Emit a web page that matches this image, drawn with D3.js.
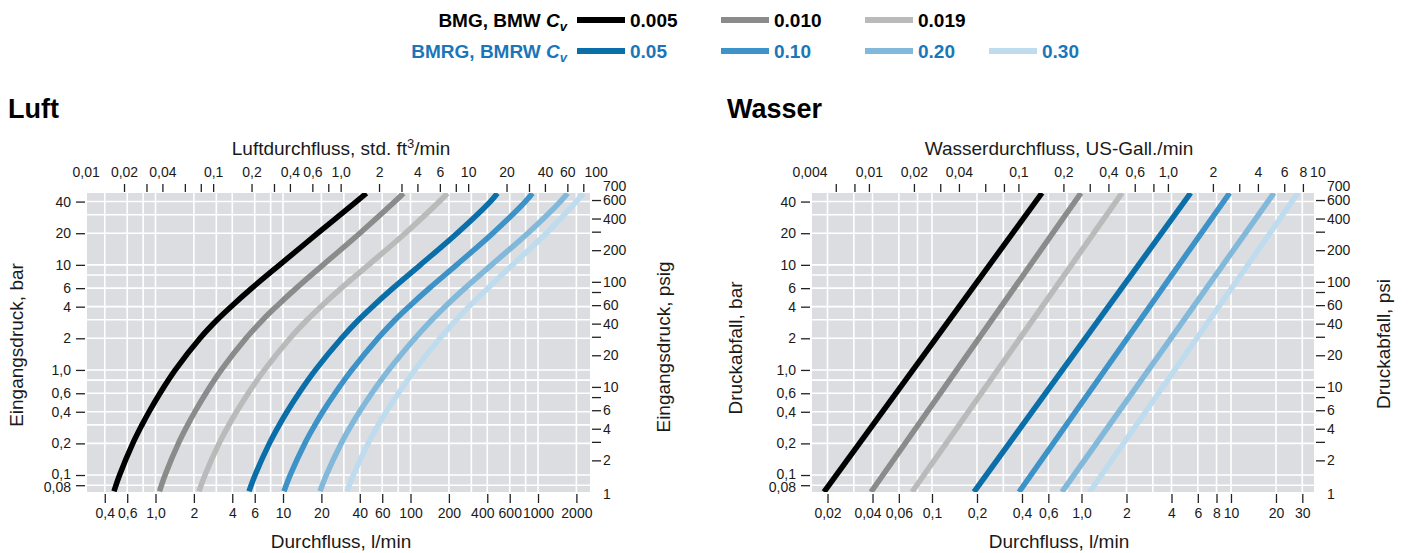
<!DOCTYPE html>
<html><head><meta charset="utf-8">
<script src="https://cdn.jsdelivr.net/npm/d3@7"></script>
<style>
body{margin:0;background:#fff;}
svg{display:block;font-family:"Liberation Sans",Arial,Helvetica,sans-serif;}
</style></head><body>
<svg id="c" width="1408" height="553"></svg>
<script>
// ---------------- DATA ----------------
// Air (Luft): inlet pressure (bar) and flow (l/min) per Cv
const airPressureBar = [0.07, 0.1, 0.2, 0.3, 0.4, 0.6, 1, 2, 3, 4, 6, 10, 20, 40, 48];
const airFlowCv0005 = [0.4726, 0.5229, 0.6637, 0.7836, 0.8908, 1.0846, 1.4300, 2.2337, 3.0473, 3.9102, 5.6925, 9.4046, 18.747, 37.58, 45.09];
const airFlowCv0010 = [1.0749, 1.1893, 1.5122, 1.7888, 2.0371, 2.4849, 3.2815, 5.1262, 6.9433, 8.8444, 12.715, 20.630, 40.027, 75.31, 87.96];
const airFlowCv0019 = [2.1937, 2.4448, 3.1537, 3.7643, 4.3181, 5.3341, 7.1599, 11.347, 15.481, 19.791, 28.658, 46.922, 91.04, 168.2, 194.7];
const airFlowCv005  = [5.4117, 6.0420, 7.8223, 9.3536, 10.749, 13.327, 17.985, 28.762, 39.241, 50.255, 72.904, 119.58, 232.0, 422.6, 480.4];
const airFlowCv010  = [10.182, 11.388, 14.824, 17.823, 20.519, 25.576, 34.705, 55.603, 75.858, 97.152, 140.68, 229.92, 442.1, 795.0, 903.8];
const airFlowCv020  = [19.507, 21.858, 28.607, 34.455, 39.811, 49.714, 67.577, 108.46, 146.91, 186.46, 267.58, 432.60, 831.8, 1496, 1701];
const airFlowCv030  = [31.766, 35.593, 46.500, 55.905, 64.595, 80.371, 108.07, 170.36, 228.26, 286.58, 403.90, 632.10, 1162, 1997, 2270];

// Water (Wasser): pressure drop (bar) and flow (l/min) per Cv
const waterPressureBar = [0.069, 48.3];
const waterFlowCv0005 = [0.01895, 0.5443];
const waterFlowCv0010 = [0.03908, 0.9923];
const waterFlowCv0019 = [0.07348, 1.866];
const waterFlowCv005  = [0.1910, 5.375];
const waterFlowCv010  = [0.3819, 9.80];
const waterFlowCv020  = [0.7406, 19.39];
const waterFlowCv030  = [1.134, 28.07];

// Legend
const cvNamesGray = ["0.005", "0.010", "0.019"];
const cvNamesBlue = ["0.05", "0.10", "0.20", "0.30"];

// Ticks & labels
const airBottomTicks = [0.4,0.6,1,2,4,6,10,20,40,60,100,200,400,600,1000,2000];
const airBottomLabels = ["0,4","0,6","1,0","2","4","6","10","20","40","60","100","200","400","600","1000","2000"];
const airGridX = [0.4,0.6,0.8,1,2,3,4,6,8,10,20,30,40,60,80,100,200,300,400,600,800,1000,2000];
const airTopTicks = [0.02,0.03,0.04,0.06,0.08,0.1,0.2,0.3,0.4,0.6,0.8,1,2,3,4,6,8,10,20,30,40,60,80];
const airTopLabelValues = [0.01,0.02,0.04,0.1,0.2,0.4,0.6,1,2,4,6,10,20,40,60,100];
const airTopLabels = ["0,01","0,02","0,04","0,1","0,2","0,4","0,6","1,0","2","4","6","10","20","40","60","100"];

const waterBottomTicks = [0.02,0.04,0.06,0.1,0.2,0.4,0.6,1,2,4,6,8,10,20,30];
const waterBottomLabels = ["0,02","0,04","0,06","0,1","0,2","0,4","0,6","1,0","2","4","6","8","10","20","30"];
const waterGridX = [0.02,0.03,0.04,0.06,0.08,0.1,0.2,0.3,0.4,0.6,0.8,1,2,3,4,6,8,10,20,30];
const waterTopTicks = [0.006,0.008,0.01,0.02,0.03,0.04,0.06,0.08,0.1,0.2,0.3,0.4,0.6,0.8,1,2,3,4,6,8];
const waterTopLabelValues = [0.004,0.01,0.02,0.04,0.1,0.2,0.4,0.6,1,2,4,6,8,10];
const waterTopLabels = ["0,004","0,01","0,02","0,04","0,1","0,2","0,4","0,6","1,0","2","4","6","8","10"];

const barTicks = [40,20,10,6,4,2,1,0.6,0.4,0.2,0.1,0.08];
const barLabels = ["40","20","10","6","4","2","1,0","0,6","0,4","0,2","0,1","0,08"];
const barGrid = [40,30,20,10,8,6,4,3,2,1,0.8,0.6,0.4,0.3,0.2,0.1,0.08];
const psiTicks = [600,400,300,200,100,80,60,40,30,20,10,8,6,4,3,2];
const psiLabelValues = [700,600,400,200,100,60,40,20,10,6,4,2,1];
const psiLabels = ["700","600","400","200","100","60","40","20","10","6","4","2","1"];

// ---------------- STYLE ----------------
const grayColors = ["#000000", "#8b8b8b", "#bababa"];
const blueColors = ["#0a6ea9", "#3d93c7", "#82b9db", "#bedcee"];
const lineColors = grayColors.concat(blueColors);
const FONT = '"Liberation Sans", Arial, Helvetica, sans-serif';
const PSI_PER_BAR = 14.5038, LPM_PER_CFM = 28.317, LPM_PER_GAL = 3.785;
const TITLE_SIZE = 19;

const svg = d3.select("#c");

// ---------------- LEGEND ----------------
const legend = svg.append("g");
const legendCols = [577, 721, 865, 989];
function legendRow(yc, title, names, colors, textColor) {
  const t = legend.append("text").attr("x", 567).attr("y", yc + 7)
    .attr("text-anchor", "end").attr("font-weight", "bold").attr("font-size", 19)
    .attr("fill", textColor).attr("font-family", FONT);
  t.append("tspan").text(title + " ");
  t.append("tspan").attr("font-style", "italic").text("C");
  t.append("tspan").attr("font-style", "italic").attr("font-size", 13).attr("dy", 4).text("v");
  names.forEach((n, i) => {
    legend.append("line").attr("x1", legendCols[i]).attr("x2", legendCols[i] + 48)
      .attr("y1", yc).attr("y2", yc).attr("stroke", colors[i]).attr("stroke-width", 6);
    legend.append("text").attr("x", legendCols[i] + 53).attr("y", yc + 7)
      .attr("font-weight", "bold").attr("font-size", 19).attr("fill", textColor)
      .attr("font-family", FONT).text(n);
  });
}
legendRow(20, "BMG, BMW", cvNamesGray, grayColors, "#000");
legendRow(51, "BMRG, BMRW", cvNamesBlue, blueColors, "#1b76b9");

// ---------------- PANELS ----------------
const Y0 = 193, Y1 = 492;
const yBar = d3.scaleLog().domain([1 / PSI_PER_BAR, 700 / PSI_PER_BAR]).range([Y1, Y0]);
const yPsi = d3.scaleLog().domain([1, 700]).range([Y1, Y0]);

function styleAxis(g) {
  g.select(".domain").remove();
  g.attr("font-family", FONT).attr("font-size", 14);
  g.selectAll(".tick line").attr("stroke", "#222").attr("stroke-width", 1.3);
  g.selectAll(".tick text").attr("fill", "#1a1a1a");
}

function panel(cfg) {
  const X0 = cfg.x0, X1 = cfg.x1;
  const x = d3.scaleLog().domain(cfg.domain).range([X0, X1]);
  const xTop = d3.scaleLog().domain(cfg.domain.map(v => v / cfg.topFactor)).range([X0, X1]);
  const g = svg.append("g");

  g.append("rect").attr("x", X0).attr("y", Y0).attr("width", X1 - X0).attr("height", Y1 - Y0)
    .attr("fill", "#dcdde0");
  g.append("g").selectAll("line").data(cfg.gridX).join("line")
    .attr("x1", d => x(d)).attr("x2", d => x(d)).attr("y1", Y0).attr("y2", Y1)
    .attr("stroke", "#fff").attr("stroke-width", 1.6);
  g.append("g").selectAll("line").data(barGrid).join("line")
    .attr("x1", X0).attr("x2", X1).attr("y1", d => yBar(d)).attr("y2", d => yBar(d))
    .attr("stroke", "#fff").attr("stroke-width", 1.6);

  const clipId = "clip" + cfg.id;
  svg.append("clipPath").attr("id", clipId).append("rect")
    .attr("x", X0).attr("y", Y0).attr("width", X1 - X0).attr("height", Y1 - Y0);
  const line = d3.line().x(d => x(d[1])).y(d => yBar(d[0])).curve(cfg.curve);
  g.append("g").attr("clip-path", `url(#${clipId})`).selectAll("path")
    .data(cfg.series).join("path")
    .attr("d", s => line(cfg.pressure.map((p, i) => [p, s[i]])))
    .attr("fill", "none").attr("stroke", (s, i) => lineColors[i])
    .attr("stroke-width", 5.5).attr("stroke-linejoin", "round");

  // bottom axis
  const bx = g.append("g").attr("transform", `translate(0,${Y1 + 2})`)
    .call(d3.axisBottom(x).tickValues(cfg.bottomTicks).tickSize(9).tickFormat((d, i) => cfg.bottomLabels[i]).tickPadding(5))
    .call(styleAxis);
  bx.selectAll(".tick text").filter(d => cfg.bottomNudge.includes(d)).attr("dx", -5);
  // top axis ticks + labels
  g.append("g").attr("transform", `translate(0,${Y0 - 1})`)
    .call(d3.axisTop(xTop).tickValues(cfg.topTicks).tickSize(8).tickFormat(""))
    .call(styleAxis);
  g.append("g").attr("transform", `translate(0,${Y0 - 1})`)
    .call(d3.axisTop(xTop).tickValues(cfg.topLabelValues).tickSize(0).tickPadding(15).tickFormat((d, i) => cfg.topLabels[i]))
    .call(styleAxis);
  // left axis (bar)
  const ly = g.append("g").attr("transform", `translate(${X0 - 2},0)`)
    .call(d3.axisLeft(yBar).tickValues(barTicks).tickSize(9).tickPadding(5).tickFormat((d, i) => barLabels[i]))
    .call(styleAxis);
  ly.selectAll(".tick text").filter(d => d === 0.08).attr("y", 2);
  ly.selectAll(".tick text").filter(d => d === 0.1).attr("y", -1);
  // right axis (psi)
  g.append("g").attr("transform", `translate(${X1 + 2},0)`)
    .call(d3.axisRight(yPsi).tickValues(psiTicks).tickSize(9).tickFormat(""))
    .call(styleAxis);
  const rl = g.append("g").attr("transform", `translate(${X1 + 2},0)`)
    .call(d3.axisRight(yPsi).tickValues(psiLabelValues).tickSize(0).tickPadding(11).tickFormat((d, i) => psiLabels[i]))
    .call(styleAxis);
  rl.selectAll(".tick text").filter(d => d === 700).attr("y", -7);
  rl.selectAll(".tick text").filter(d => d === 1).attr("y", 2);

  // titles
  g.append("text").attr("x", cfg.titleX).attr("y", 118).attr("font-weight", "bold")
    .attr("font-size", 27).attr("font-family", FONT).text(cfg.title);
  const tt = g.append("text").attr("x", cfg.topTitleX).attr("y", 155).attr("text-anchor", "middle")
    .attr("font-size", TITLE_SIZE).attr("font-family", FONT).attr("fill", "#1a1a1a");
  tt.append("tspan").text(cfg.topTitle[0]);
  if (cfg.topTitle.length > 1) {
    tt.append("tspan").attr("font-size", 13).attr("dy", -7).text(cfg.topTitle[1]);
    tt.append("tspan").attr("dy", 7).text(cfg.topTitle[2]);
  }
  g.append("text").attr("x", cfg.topTitleX).attr("y", 548).attr("text-anchor", "middle")
    .attr("font-size", TITLE_SIZE).attr("font-family", FONT).attr("fill", "#1a1a1a").text("Durchfluss, l/min");
  g.append("text").attr("transform", `translate(${cfg.leftTitle[1]},${cfg.leftTitle[2]}) rotate(-90)`)
    .attr("text-anchor", "middle").attr("font-size", TITLE_SIZE).attr("font-family", FONT).attr("fill", "#1a1a1a")
    .text(cfg.leftTitle[0]);
  g.append("text").attr("transform", `translate(${cfg.rightTitle[1]},${cfg.rightTitle[2]}) rotate(-90)`)
    .attr("text-anchor", "middle").attr("font-size", TITLE_SIZE).attr("font-family", FONT).attr("fill", "#1a1a1a")
    .text(cfg.rightTitle[0]);
}

panel({
  id: "air", x0: 87, x1: 590, domain: [0.2902, 2557], topFactor: LPM_PER_CFM,
  gridX: airGridX, bottomTicks: airBottomTicks, bottomLabels: airBottomLabels, bottomNudge: [400],
  topTicks: airTopTicks, topLabelValues: airTopLabelValues, topLabels: airTopLabels,
  pressure: airPressureBar, curve: d3.curveCatmullRom,
  series: [airFlowCv0005, airFlowCv0010, airFlowCv0019, airFlowCv005, airFlowCv010, airFlowCv020, airFlowCv030],
  title: "Luft", titleX: 8,
  topTitle: ["Luftdurchfluss, std. ft", "3", "/min"], topTitleX: 341,
  leftTitle: ["Eingangsdruck, bar", 23, 345], rightTitle: ["Eingangsdruck, psig", 670, 347]
});
panel({
  id: "water", x0: 812, x1: 1314, domain: [0.01575, 35.92], topFactor: LPM_PER_GAL,
  gridX: waterGridX, bottomTicks: waterBottomTicks, bottomLabels: waterBottomLabels, bottomNudge: [0.04],
  topTicks: waterTopTicks, topLabelValues: waterTopLabelValues, topLabels: waterTopLabels,
  pressure: waterPressureBar, curve: d3.curveLinear,
  series: [waterFlowCv0005, waterFlowCv0010, waterFlowCv0019, waterFlowCv005, waterFlowCv010, waterFlowCv020, waterFlowCv030],
  title: "Wasser", titleX: 727,
  topTitle: ["Wasserdurchfluss, US-Gall./min"], topTitleX: 1059,
  leftTitle: ["Druckabfall, bar", 742, 348], rightTitle: ["Druckabfall, psi", 1390, 344]
});
</script>
</body></html>
